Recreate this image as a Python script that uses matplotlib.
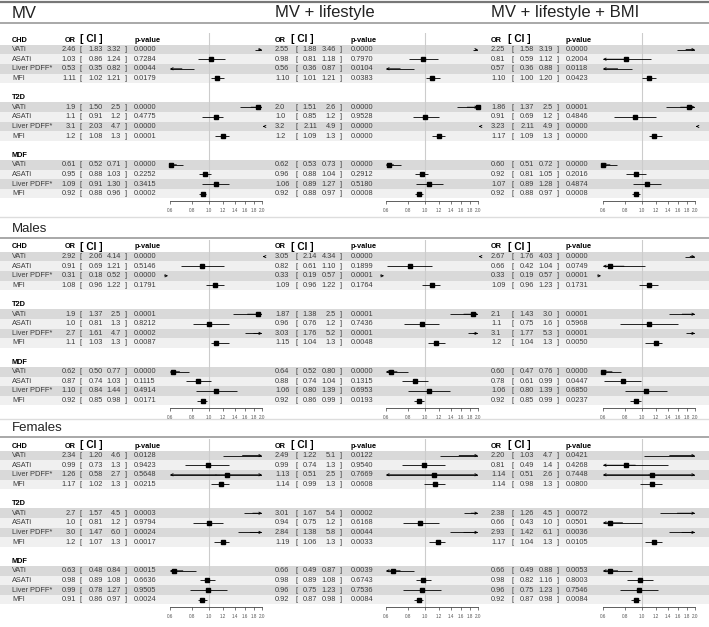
import numpy as np
import matplotlib.pyplot as plt

plt.rcParams['font.family'] = ['Liberation Sans', 'DejaVu Sans']

W, H = 709, 627
DPI = 100

models = ["MV", "MV + lifestyle", "MV + lifestyle + BMI"]
groups = ["", "Males", "Females"]
outcomes = ["CHD", "T2D", "MDF"]
depots = ["VATi", "ASATi", "Liver PDFF*", "MFI"]

# rows: CHD x4, T2D x4, MDF x4 -> (OR, lower, upper, p)
all_mv = [("2.46", "1.83", "3.32", "0.0000"), ("1.03", "0.86", "1.24", "0.7284"),
          ("0.53", "0.35", "0.82", "0.0044"), ("1.11", "1.02", "1.21", "0.0179"),
          ("1.9", "1.50", "2.5", "0.0000"), ("1.1", "0.91", "1.2", "0.4775"),
          ("3.1", "2.03", "4.7", "0.0000"), ("1.2", "1.08", "1.3", "0.0001"),
          ("0.61", "0.52", "0.71", "0.0000"), ("0.95", "0.88", "1.03", "0.2252"),
          ("1.09", "0.91", "1.30", "0.3415"), ("0.92", "0.88", "0.96", "0.0002")]
all_life = [("2.55", "1.88", "3.46", "0.0000"), ("0.98", "0.81", "1.18", "0.7970"),
            ("0.56", "0.36", "0.87", "0.0104"), ("1.10", "1.01", "1.21", "0.0383"),
            ("2.0", "1.51", "2.6", "0.0000"), ("1.0", "0.85", "1.2", "0.9528"),
            ("3.2", "2.11", "4.9", "0.0000"), ("1.2", "1.09", "1.3", "0.0000"),
            ("0.62", "0.53", "0.73", "0.0000"), ("0.96", "0.88", "1.04", "0.2912"),
            ("1.06", "0.89", "1.27", "0.5180"), ("0.92", "0.88", "0.97", "0.0008")]
all_bmi = [("2.25", "1.58", "3.19", "0.0000"), ("0.81", "0.59", "1.12", "0.2004"),
           ("0.57", "0.36", "0.88", "0.0118"), ("1.10", "1.00", "1.20", "0.0423"),
           ("1.86", "1.37", "2.5", "0.0001"), ("0.91", "0.69", "1.2", "0.4846"),
           ("3.23", "2.11", "4.9", "0.0000"), ("1.17", "1.09", "1.3", "0.0000"),
           ("0.60", "0.51", "0.72", "0.0000"), ("0.92", "0.81", "1.05", "0.2016"),
           ("1.07", "0.89", "1.28", "0.4874"), ("0.92", "0.88", "0.97", "0.0008")]

males_mv = [("2.92", "2.06", "4.14", "0.0000"), ("0.91", "0.69", "1.21", "0.5146"),
            ("0.31", "0.18", "0.52", "0.0000"), ("1.08", "0.96", "1.22", "0.1791"),
            ("1.9", "1.37", "2.5", "0.0001"), ("1.0", "0.81", "1.3", "0.8212"),
            ("2.7", "1.61", "4.7", "0.0002"), ("1.1", "1.03", "1.3", "0.0087"),
            ("0.62", "0.50", "0.77", "0.0000"), ("0.87", "0.74", "1.03", "0.1115"),
            ("1.10", "0.84", "1.44", "0.4914"), ("0.92", "0.85", "0.98", "0.0171")]
males_life = [("3.05", "2.14", "4.34", "0.0000"), ("0.82", "0.61", "1.10", "0.1899"),
              ("0.33", "0.19", "0.57", "0.0001"), ("1.09", "0.96", "1.22", "0.1764"),
              ("1.87", "1.38", "2.5", "0.0001"), ("0.96", "0.76", "1.2", "0.7436"),
              ("3.03", "1.76", "5.2", "0.0001"), ("1.15", "1.04", "1.3", "0.0048"),
              ("0.64", "0.52", "0.80", "0.0000"), ("0.88", "0.74", "1.04", "0.1315"),
              ("1.06", "0.80", "1.39", "0.6953"), ("0.92", "0.86", "0.99", "0.0193")]
males_bmi = [("2.67", "1.76", "4.03", "0.0000"), ("0.66", "0.42", "1.04", "0.0749"),
             ("0.33", "0.19", "0.57", "0.0001"), ("1.09", "0.96", "1.23", "0.1731"),
             ("2.1", "1.43", "3.0", "0.0001"), ("1.1", "0.75", "1.6", "0.5968"),
             ("3.1", "1.77", "5.3", "0.0001"), ("1.2", "1.04", "1.3", "0.0050"),
             ("0.60", "0.47", "0.76", "0.0000"), ("0.78", "0.61", "0.99", "0.0447"),
             ("1.06", "0.80", "1.39", "0.6850"), ("0.92", "0.85", "0.99", "0.0237")]

females_mv = [("2.34", "1.20", "4.6", "0.0128"), ("0.99", "0.73", "1.3", "0.9423"),
              ("1.26", "0.58", "2.7", "0.5648"), ("1.17", "1.02", "1.3", "0.0215"),
              ("2.7", "1.57", "4.5", "0.0003"), ("1.0", "0.81", "1.2", "0.9794"),
              ("3.0", "1.47", "6.0", "0.0024"), ("1.2", "1.07", "1.3", "0.0017"),
              ("0.63", "0.48", "0.84", "0.0015"), ("0.98", "0.89", "1.08", "0.6636"),
              ("0.99", "0.78", "1.27", "0.9505"), ("0.91", "0.86", "0.97", "0.0024")]
females_life = [("2.49", "1.22", "5.1", "0.0122"), ("0.99", "0.74", "1.3", "0.9540"),
                ("1.13", "0.51", "2.5", "0.7669"), ("1.14", "0.99", "1.3", "0.0608"),
                ("3.01", "1.67", "5.4", "0.0002"), ("0.94", "0.75", "1.2", "0.6168"),
                ("2.84", "1.38", "5.8", "0.0044"), ("1.19", "1.06", "1.3", "0.0033"),
                ("0.66", "0.49", "0.87", "0.0039"), ("0.98", "0.89", "1.08", "0.6743"),
                ("0.96", "0.75", "1.23", "0.7536"), ("0.92", "0.87", "0.98", "0.0084")]
females_bmi = [("2.20", "1.03", "4.7", "0.0421"), ("0.81", "0.49", "1.4", "0.4268"),
               ("1.14", "0.51", "2.6", "0.7448"), ("1.14", "0.98", "1.3", "0.0800"),
               ("2.38", "1.26", "4.5", "0.0072"), ("0.66", "0.43", "1.0", "0.0501"),
               ("2.93", "1.42", "6.1", "0.0036"), ("1.17", "1.04", "1.3", "0.0105"),
               ("0.66", "0.49", "0.88", "0.0053"), ("0.98", "0.82", "1.16", "0.8003"),
               ("0.96", "0.75", "1.23", "0.7546"), ("0.92", "0.87", "0.98", "0.0084")]

tables = [[all_mv, all_life, all_bmi],
          [males_mv, males_life, males_bmi],
          [females_mv, females_life, females_bmi]]

ticks = [0.6, 0.8, 1.0, 1.2, 1.4, 1.6, 1.8, 2.0]
lo_clip, hi_clip = 0.6, 2.0

# ---- layout (pixels) ----
pitch = 9.6
header_y = [40, 247, 446]
title_y = [13, 229, 428]
col_x = [
    dict(orr=76, ora="right", br1=80, lo=103, hi=121, br2=125, p=134, h_or=76, h_ci=80, h_p=135),
    dict(orr=275, ora="left", br1=295, lo=317, hi=336, br2=340, p=351, h_or=275, h_ci=291, h_p=351),
    dict(orr=491, ora="left", br1=512, lo=534, hi=553, br2=557, p=566, h_or=491, h_ci=508, h_p=566),
]
forest_x = [(170, 262), (386, 478), (603, 695)]
title_x = [12, 275, 491]

txt_col = "#3c3c3c"
band_dark = "#d9d9d9"
band_light = "#f0f0f0"
fs = 5.3

fig = plt.figure(figsize=(W / DPI, H / DPI), dpi=DPI)
bg = fig.add_axes([0, 0, 1, 1])
bg.set_xlim(0, W)
bg.set_ylim(H, 0)
bg.axis("off")

# top lines of header band
bg.axhline(2, color="#777777", lw=1.6)
bg.axhline(23, color="#999999", lw=1.2)
for c, m in enumerate(models):
    bg.text(title_x[c], title_y[0], m, fontsize=12, va="center", ha="left", color="#222222")

for g in range(3):
    y0 = header_y[g]
    if g > 0:
        bg.axhline(title_y[g] - (12 if g == 1 else 9), color="#dddddd", lw=1.0)
        bg.axhline(title_y[g] + 9, color="#999999", lw=1.2)
        bg.text(title_x[0], title_y[g], groups[g], fontsize=9.5, va="center", ha="left", color="#222222")

    for b, outc in enumerate(outcomes):
        hy = y0 + 6 * b * pitch
        bg.text(title_x[0], hy, outc, fontsize=fs, fontweight="bold", va="center", ha="left")
        for k in range(4):
            ry = hy + (k + 1) * pitch
            bg.axhspan(ry - pitch / 2, ry + pitch / 2, color=band_dark if k % 2 == 0 else band_light,
                       lw=0, zorder=0)
            bg.text(title_x[0], ry, depots[k], fontsize=fs, va="center", ha="left", color=txt_col)

    for c in range(3):
        cx = col_x[c]
        bg.text(cx["h_or"], y0, "OR", fontsize=fs, fontweight="bold", va="center",
                ha="right" if c == 0 else "left")
        bg.text(cx["h_ci"], y0 - 0.5, "[ CI ]", fontsize=fs + 2, fontweight="bold", va="center", ha="left")
        bg.text(cx["h_p"], y0, "p-value", fontsize=fs, fontweight="bold", va="center", ha="left")
        rows = tables[g][c]
        for i, (o, lo, hi, p) in enumerate(rows):
            ry = y0 + (i // 4) * 6 * pitch + (i % 4 + 1) * pitch
            bg.text(cx["orr"], ry, o, fontsize=fs, va="center", ha=cx["ora"], color=txt_col)
            bg.text(cx["br1"], ry, "[", fontsize=fs, va="center", ha="left", color=txt_col)
            bg.text(cx["lo"], ry, lo, fontsize=fs, va="center", ha="right", color=txt_col)
            bg.text(cx["hi"], ry, hi, fontsize=fs, va="center", ha="right", color=txt_col)
            bg.text(cx["br2"], ry, "]", fontsize=fs, va="center", ha="left", color=txt_col)
            bg.text(cx["p"], ry, p, fontsize=fs, va="center", ha="left", color=txt_col)

        # forest panel
        top = y0 - 7
        axis_y = y0 + 16.75 * pitch
        fx0, fx1 = forest_x[c]
        ax = fig.add_axes([fx0 / W, 1 - axis_y / H, (fx1 - fx0) / W, (axis_y - top) / H])
        ax.patch.set_alpha(0)
        ax.set_xscale("log")
        ax.set_xlim(lo_clip, hi_clip)
        ax.set_ylim(axis_y, top)
        for s in ["top", "right", "left"]:
            ax.spines[s].set_visible(False)
        ax.spines["bottom"].set_color("#444444")
        ax.spines["bottom"].set_linewidth(0.6)
        ax.set_yticks([])
        ax.set_xticks(ticks)
        ax.set_xticks([], minor=True)
        ax.set_xticklabels([f"{t:.1f}" for t in ticks])
        ax.tick_params(axis="x", labelsize=3.3, length=2.5, width=0.5, pad=2.5,
                       colors="#444444", labelcolor="#555555")
        ax.axvline(1.0, color="#cccccc", lw=0.8, zorder=0)

        orv = np.array([float(r[0]) for r in rows])
        lov = np.array([float(r[1]) for r in rows])
        hiv = np.array([float(r[2]) for r in rows])
        ys = np.array([y0 + (i // 4) * 6 * pitch + (i % 4 + 1) * pitch for i in range(len(rows))])
        arr = dict(arrowstyle="->", lw=0.6, color="black", mutation_scale=4, shrinkA=0, shrinkB=0)
        for o, l, h, y in zip(orv, lov, hiv, ys):
            if h < lo_clip:
                ax.annotate("", xy=(lo_clip * 0.975, y), xytext=(lo_clip * 0.93, y),
                            arrowprops=arr, annotation_clip=False)
                continue
            if l > hi_clip:
                ax.annotate("", xy=(hi_clip * 1.01, y), xytext=(hi_clip * 1.03, y),
                            arrowprops=arr, annotation_clip=False)
                continue
            a, bnd = max(l, lo_clip), min(h, hi_clip)
            ax.plot([a, bnd], [y, y], color="black", lw=0.6, solid_capstyle="butt")
            mid = np.sqrt(a * bnd)
            if l < lo_clip:
                ax.annotate("", xy=(lo_clip, y), xytext=(mid, y), arrowprops=arr)
            if h > hi_clip:
                ax.annotate("", xy=(hi_clip, y), xytext=(mid, y), arrowprops=arr)
            if lo_clip <= o <= hi_clip:
                ax.plot([o], [y], marker="s", ms=2.8, color="black", clip_on=False)

fig.savefig("out.png", dpi=DPI)
